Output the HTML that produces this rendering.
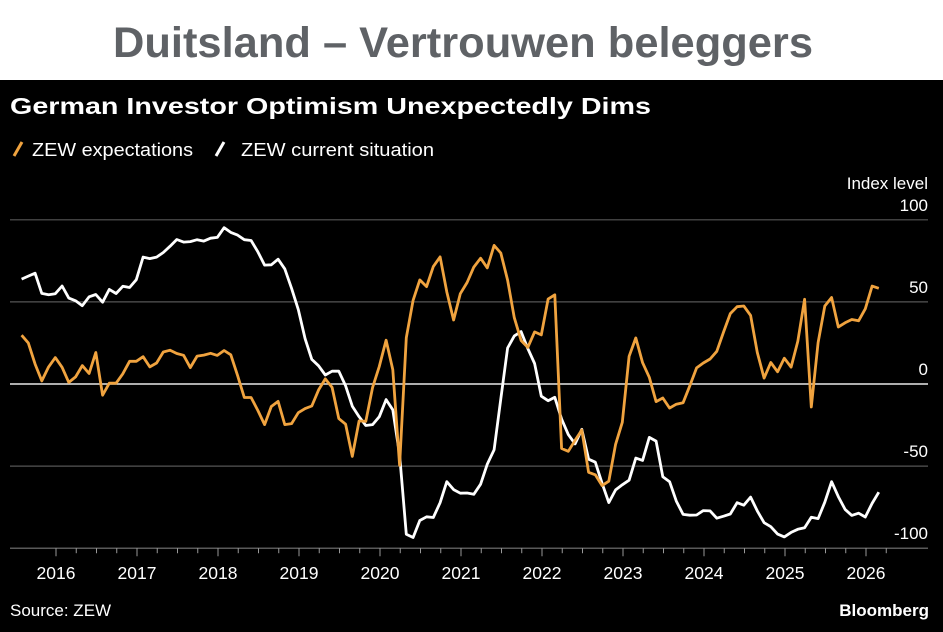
<!DOCTYPE html>
<html><head><meta charset="utf-8"><style>
body{margin:0;width:943px;height:632px;overflow:hidden;background:#fff;font-family:"Liberation Sans",sans-serif}
#chart{position:absolute;left:0;top:80px}
#hdr{position:absolute;left:0;top:0}
</style></head><body>
<svg id="hdr" width="943" height="80" font-family="Liberation Sans, sans-serif">
<text x="113" y="57" fill="#5f6266" font-weight="bold" font-size="43" textLength="700" lengthAdjust="spacingAndGlyphs">Duitsland – Vertrouwen beleggers</text>
</svg>
<svg id="chart" width="943" height="552" font-family="Liberation Sans, sans-serif">
<rect width="943" height="552" fill="#000"/>
<text x="10" y="34" fill="#fff" font-weight="bold" font-size="23" textLength="641" lengthAdjust="spacingAndGlyphs">German Investor Optimism Unexpectedly Dims</text>
<g>
<line x1="14" y1="76" x2="22" y2="62" stroke="#f0a33f" stroke-width="3"/>
<text x="32" y="76" fill="#fff" font-size="18" textLength="161" lengthAdjust="spacingAndGlyphs">ZEW expectations</text>
<line x1="216" y1="76" x2="224" y2="62" stroke="#fff" stroke-width="3"/>
<text x="241" y="76" fill="#fff" font-size="18" textLength="193" lengthAdjust="spacingAndGlyphs">ZEW current situation</text>
</g>
<text x="928" y="109" fill="#fff" font-size="17" text-anchor="end">Index level</text>
<g id="grid"></g><g id="xax"></g><g id="series"></g>
<text x="10" y="536" fill="#fff" font-size="17">Source: ZEW</text>
<text x="929" y="536" fill="#fff" font-size="17" font-weight="bold" text-anchor="end">Bloomberg</text>
</svg>
<script>
const yTicks=[100,50,0,-50,-100];
const years=[2016,2017,2018,2019,2020,2021,2022,2023,2024,2025,2026];
const startYear=2015, startMonth=6; // July 2015 (0-based)
const expectations=[29.7,25.0,12.1,1.9,10.4,16.1,
10.2,1.0,4.3,11.2,6.4,19.2,-6.8,0.5,0.5,6.2,13.8,13.8,
16.6,10.4,12.8,19.5,20.6,18.6,17.5,10.0,17.0,17.6,18.7,17.4,
20.4,17.8,5.1,-8.2,-8.2,-16.1,-24.7,-13.7,-10.6,-24.7,-24.1,-17.5,
-15.0,-13.4,-3.6,3.1,-2.1,-21.1,-24.5,-44.1,-22.5,-22.8,-2.1,10.7,
26.7,8.7,-49.5,28.2,51.0,63.4,59.3,71.5,77.4,56.1,39.0,55.0,
61.8,71.2,76.6,70.7,84.4,79.8,63.3,40.4,26.5,22.3,31.7,29.9,
51.7,54.3,-39.3,-41.0,-34.3,-28.0,-53.8,-55.3,-61.9,-59.2,-36.7,-23.3,
16.9,28.1,13.0,4.1,-10.7,-8.5,-14.7,-12.3,-11.4,-1.1,9.8,12.8,
15.2,19.9,31.7,42.9,47.1,47.5,41.8,19.2,3.6,13.1,7.4,15.7,
10.3,26.0,51.6,-14.0,25.2,47.5,52.7,34.7,37.3,39.3,38.5,45.8,
59.6,58.3];
const current=[63.9,65.7,67.5,55.2,54.4,55.0,
59.7,52.3,50.7,47.7,53.1,54.5,49.8,57.6,55.1,59.5,58.8,63.5,
77.3,76.4,77.3,80.1,83.9,88.0,86.4,86.7,87.9,87.0,88.8,89.3,
95.2,92.3,90.7,87.9,87.4,80.6,72.4,72.6,76.0,70.1,58.2,45.3,
27.6,15.0,11.1,5.5,7.8,7.8,-1.1,-13.5,-19.9,-25.3,-24.7,-19.9,
-9.5,-15.7,-43.1,-91.5,-93.5,-83.1,-80.9,-81.3,-72.3,-59.5,-64.3,-66.5,
-66.4,-67.2,-61.0,-48.8,-40.1,-9.1,21.9,29.3,31.9,21.6,12.5,-7.4,
-10.2,-8.1,-21.4,-30.8,-36.5,-27.6,-45.8,-47.6,-60.5,-72.2,-64.5,-61.4,
-58.6,-45.1,-46.5,-32.5,-34.8,-56.5,-59.5,-71.3,-79.4,-79.9,-79.8,-77.1,
-77.3,-81.7,-80.5,-79.2,-72.3,-73.8,-68.9,-77.3,-84.5,-86.9,-91.4,-93.1,
-90.4,-88.5,-87.6,-81.2,-82.0,-72.0,-59.5,-68.6,-76.4,-80.0,-78.7,-81.0,
-72.7,-65.9];
const NS="http://www.w3.org/2000/svg";
function y(v){return 304-v*1.642;}
function xYear(yr){return 56+(yr-2016)*81;}
function xIdx(i){const m=startMonth+i+0.9;return xYear(startYear)+m*81/12;}
function mk(t,a,p){const e=document.createElementNS(NS,t);for(const k in a)e.setAttribute(k,a[k]);p.appendChild(e);return e;}
const grid=document.getElementById('grid');
yTicks.forEach(v=>{
 const l=mk('line',{x1:10,x2:928,y1:y(v),y2:y(v),stroke:v===0?'#e8e8e8':(v===-100?'#777':'#555'),'stroke-width':v===0?1.5:1.2},grid);
 
 
 const t=mk('text',{x:928,y:y(v)-9,fill:'#fff','font-size':17,'text-anchor':'end'},grid);
 t.textContent=v;
 
 
});
const xax=document.getElementById('xax');
for(let yr=2016;yr<=2026;yr++){for(let q=0;q<4;q++){
 const x=xYear(yr)+q*81/4;if(x>900)continue;
 const l=mk('line',{x1:x,x2:x,y1:y(-100),y2:y(-100)+(q===0?8:5),stroke:'#999','stroke-width':1},xax);
 
 
}}
years.forEach(yr=>{
 const t=mk('text',{x:xYear(yr),y:499,fill:'#fff','font-size':17.5,'text-anchor':'middle'},xax);
 t.textContent=yr;
 
 
});
const ser=document.getElementById('series');
function line(arr,col,name){
 const d=arr.map((v,i)=>(i?'L':'M')+xIdx(i).toFixed(1)+','+y(v).toFixed(1)).join('');
 const p=mk('path',{d:d,fill:'none',stroke:col,'stroke-width':2.8,'stroke-linejoin':'round'},ser);
 
 
}
line(current,'#ffffff','current-situation-line');
line(expectations,'#f0a33f','expectations-line');
</script>
</body></html>
